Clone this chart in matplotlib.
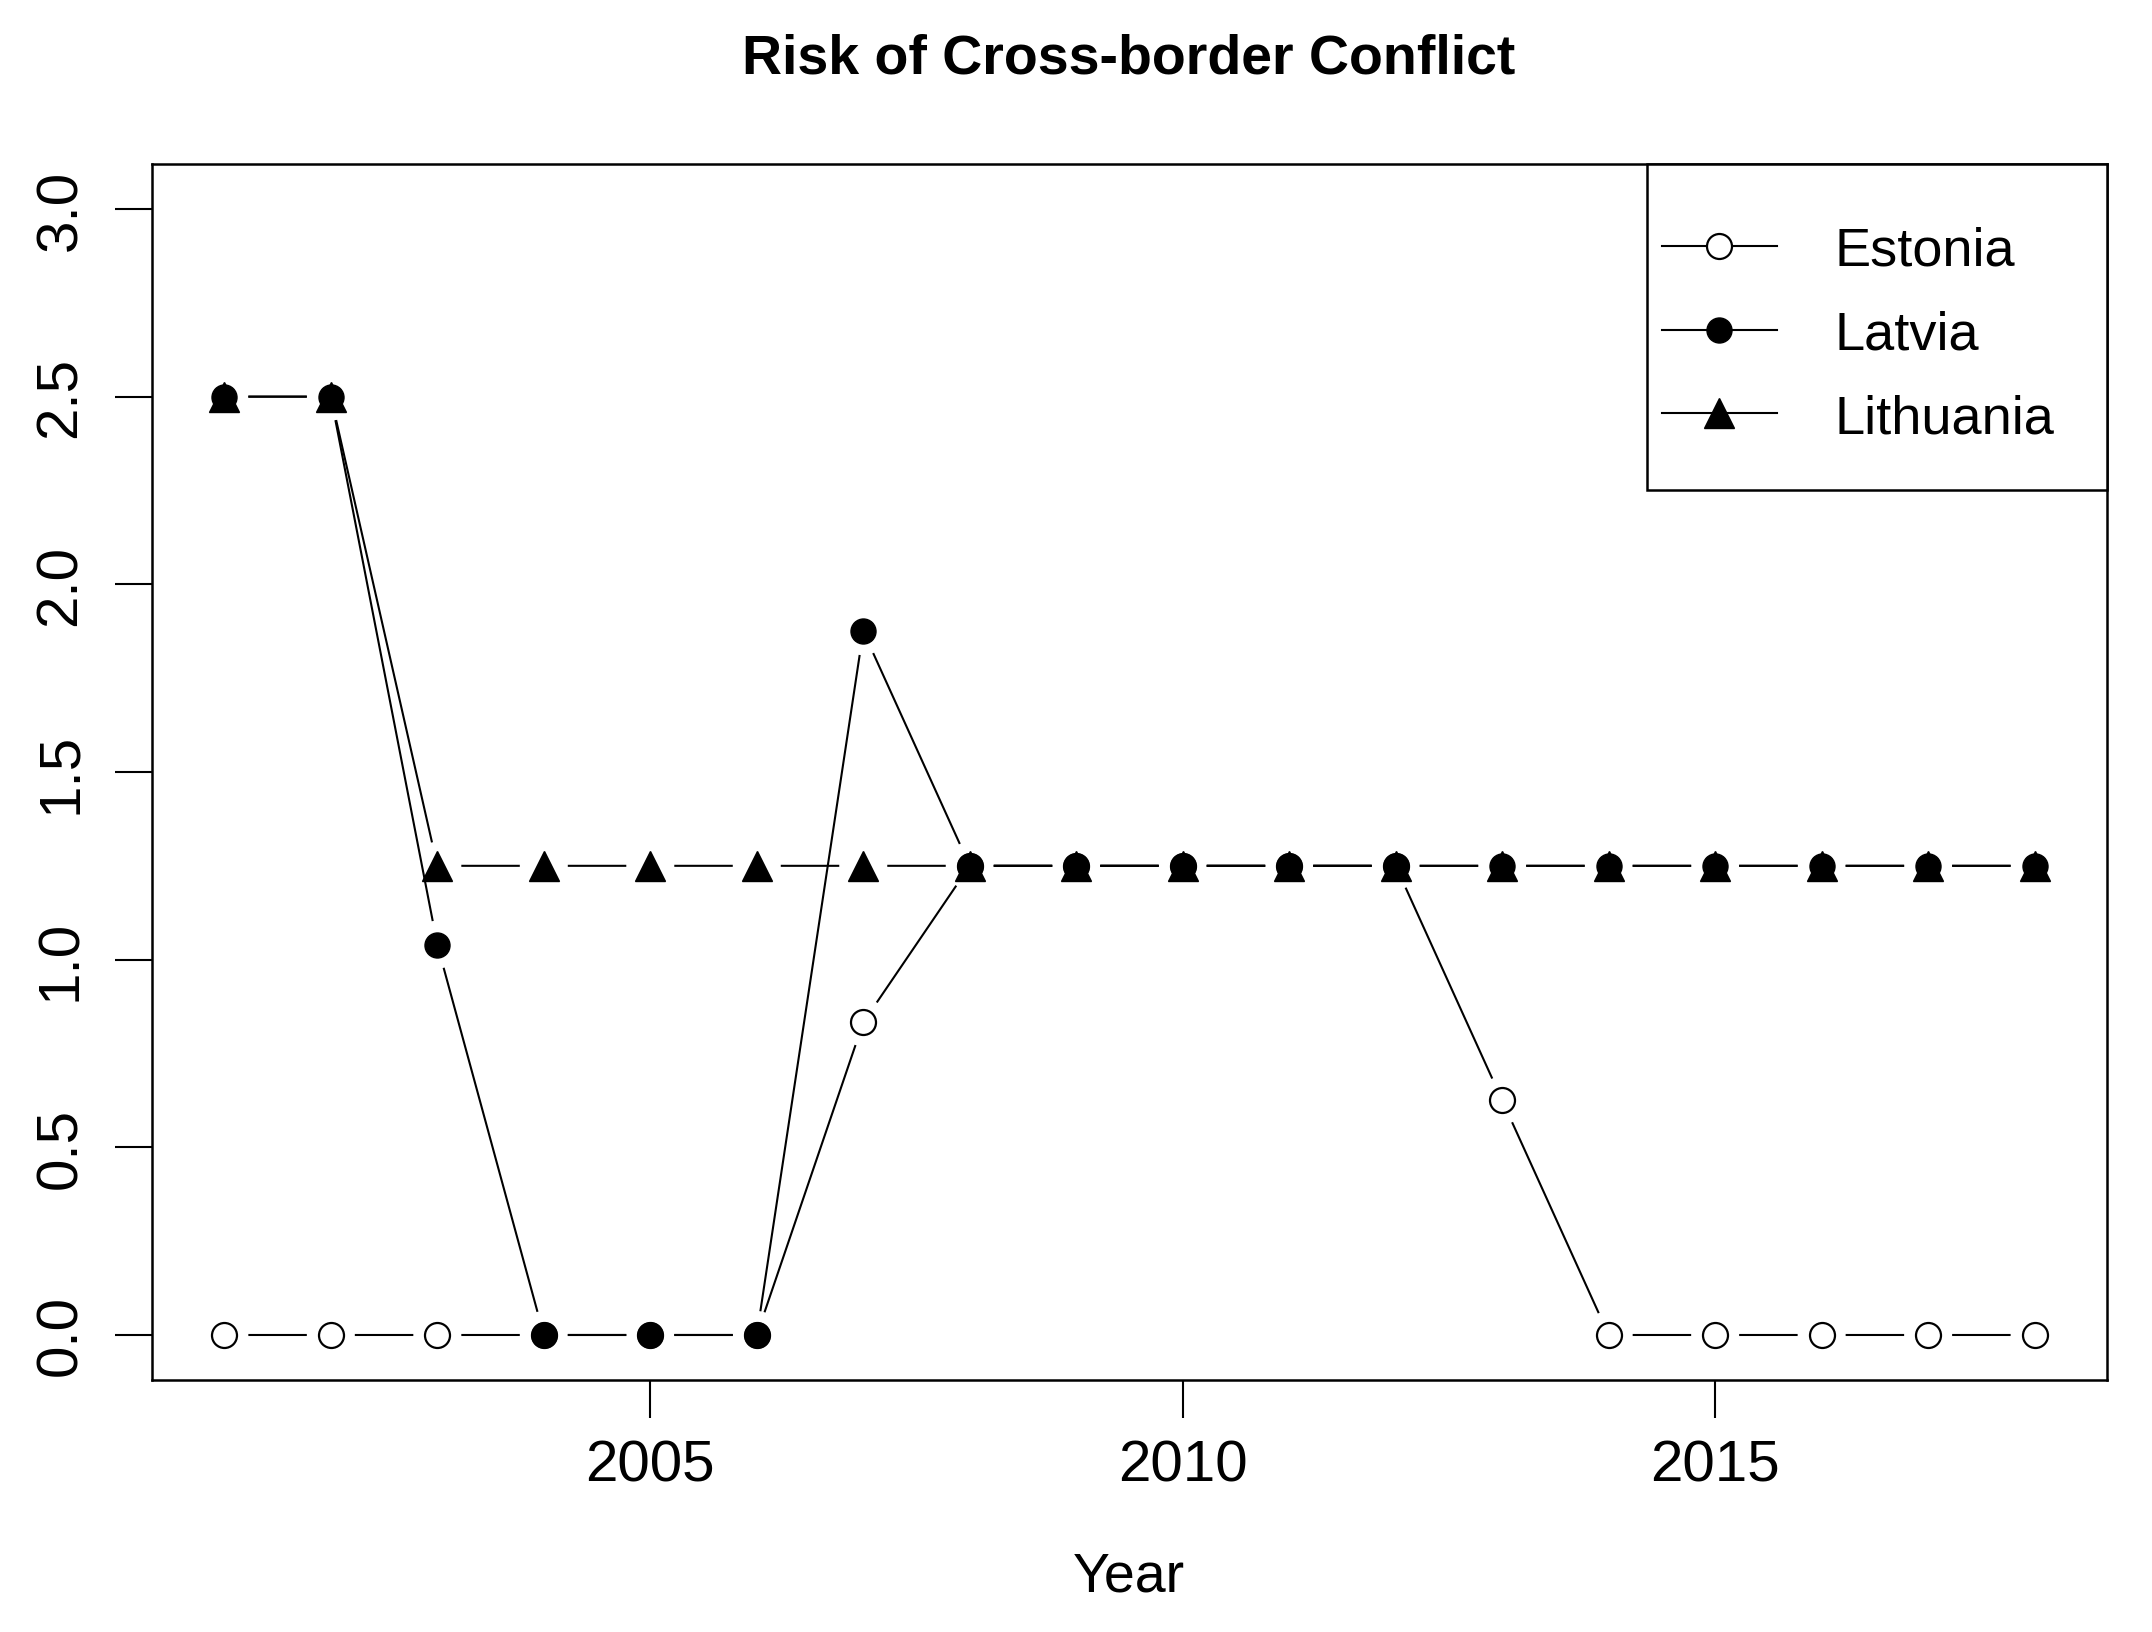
import numpy as np
import matplotlib.pyplot as plt
from matplotlib.lines import Line2D
from matplotlib.patches import Rectangle

plt.rcParams['font.family'] = ['Liberation Sans', 'DejaVu Sans']

years = list(range(2001, 2019))
estonia = [0, 0, 0, 0, 0, 0, 0.833, 1.25, 1.25, 1.25, 1.25, 1.25, 0.625, 0, 0, 0, 0, 0]
latvia = [2.5, 2.5, 1.04, 0, 0, 0, 1.875, 1.25, 1.25, 1.25, 1.25, 1.25, 1.25, 1.25, 1.25, 1.25, 1.25, 1.25]
lithuania = [2.5, 2.5, 1.25, 1.25, 1.25, 1.25, 1.25, 1.25, 1.25, 1.25, 1.25, 1.25, 1.25, 1.25, 1.25, 1.25, 1.25, 1.25]
labels = ['Estonia', 'Latvia', 'Lithuania']
yticks = [0.0, 0.5, 1.0, 1.5, 2.0, 2.5, 3.0]
xticks = [2005, 2010, 2015]

fig = plt.figure(figsize=(21.52, 16.33), dpi=100)
ax = fig.add_axes([0.0706, 0.1543, 0.9085, 0.7447])
ax.set_xlim(2000.32, 2018.68)
ax.set_ylim(-0.12, 3.12)

lw = 1.5
gap = 24  # pixels, like R type="b"


def gapped_line(x, y):
    # line segments that stop short of each point
    pts = ax.transData.transform(np.column_stack([x, y]))
    inv = ax.transData.inverted()
    xs, ys = [], []
    for p0, p1 in zip(pts[:-1], pts[1:]):
        d = np.hypot(*(p1 - p0))
        if d <= 2 * gap:
            continue
        u = (p1 - p0) / d
        a = inv.transform(p0 + u * gap)
        b = inv.transform(p1 - u * gap)
        xs += [a[0], b[0], np.nan]
        ys += [a[1], b[1], np.nan]
    ax.plot(xs, ys, color='black', lw=lw, solid_capstyle='butt')


gapped_line(years, estonia)
ax.plot(years, estonia, 'o', ms=18, mfc='none', mec='black', mew=1.6)
gapped_line(years, latvia)
ax.plot(years, latvia, 'o', ms=18, color='black')
gapped_line(years, lithuania)
ax.plot(years, lithuania, '^', ms=22, color='black')

ax.set_xticks(xticks)
ax.set_yticks(yticks)
ax.set_yticklabels(['%.1f' % v for v in yticks], rotation=90, va='center')
ax.tick_params(direction='out', length=27, width=1.5, labelsize=42)
ax.tick_params(axis='x', pad=15)
ax.tick_params(axis='y', pad=19)
for s in ax.spines.values():
    s.set_linewidth(1.8)

fig.text(0.5244, 0.9635, 'Risk of Cross-border Conflict', ha='center', va='center',
         fontsize=40, fontweight='bold')
fig.text(0.5244, 0.034, 'Year', ha='center', va='center', fontsize=40)

handles = [
    Line2D([], [], color='black', lw=lw, marker='o', ms=18, mfc='white', mec='black', mew=1.6),
    Line2D([], [], color='black', lw=lw, marker='o', ms=18),
    Line2D([], [], color='black', lw=lw, marker='^', ms=22),
]
ax.add_patch(Rectangle((0.7647, 0.732), 0.2353, 0.268, transform=ax.transAxes,
                       facecolor='white', edgecolor='black', lw=1.8, clip_on=False, zorder=4))
leg = ax.legend(handles, labels, loc='upper left', bbox_to_anchor=(0.7724, 0.949),
                borderaxespad=0, borderpad=0, fontsize=39, handlelength=2.12,
                handletextpad=1.07, labelspacing=0.62, frameon=False)
leg.set_zorder(5)

fig.savefig('out.png', dpi=100)
